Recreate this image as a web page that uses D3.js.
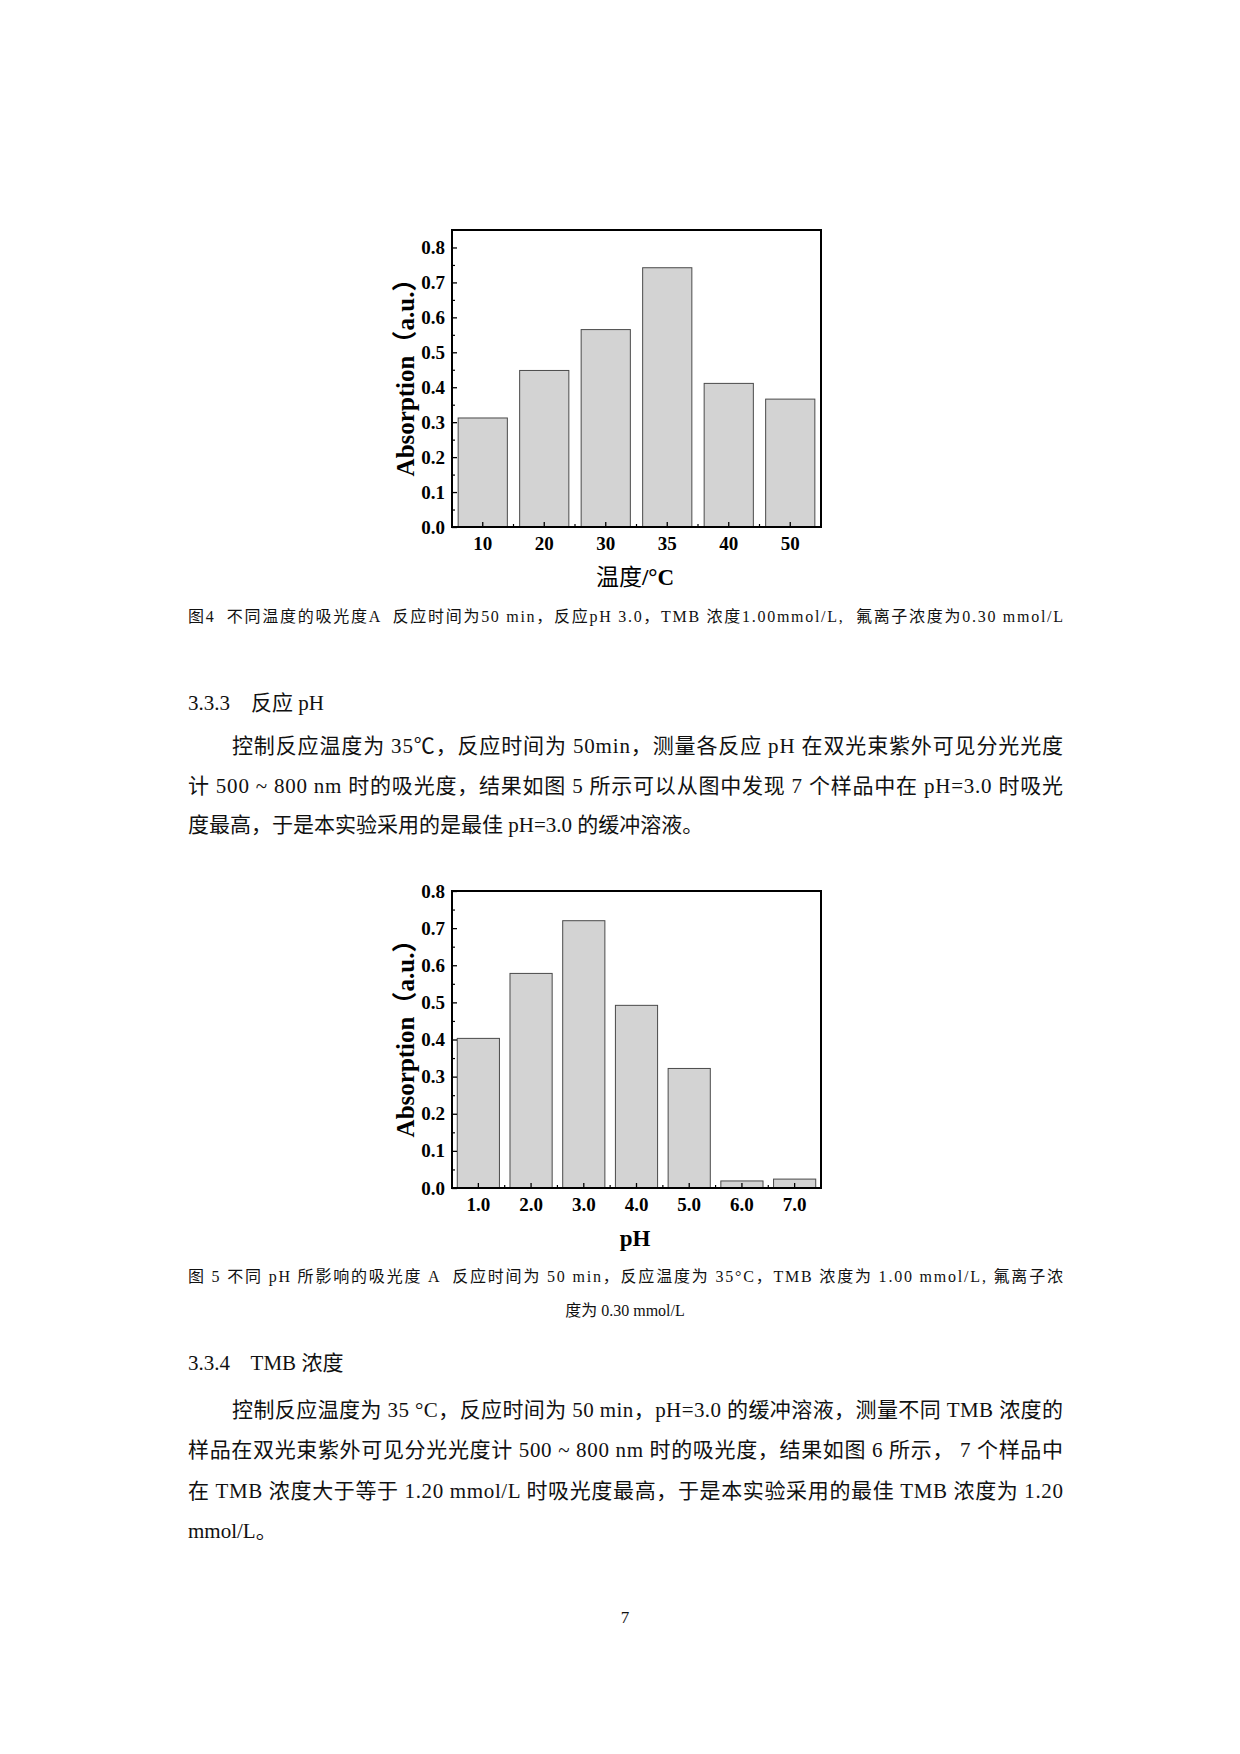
<!DOCTYPE html>
<html>
<head>
<meta charset="utf-8">
<script src="https://cdn.jsdelivr.net/npm/d3@7"></script>
<style>
  body { margin: 0; background: #fff; }
  text { font-family: "Liberation Serif", "Noto Sans CJK SC", serif; white-space: pre; }
</style>
</head>
<body>
<svg width="1240" height="1754"></svg>
<script>
// figure 4 - temperature
const tempCats = ['10', '20', '30', '35', '40', '50'];
const tempVals = [0.312, 0.448, 0.565, 0.742, 0.411, 0.366];
// figure 5 - pH
const phCats = ['1.0', '2.0', '3.0', '4.0', '5.0', '6.0', '7.0'];
const phVals = [0.403, 0.578, 0.720, 0.492, 0.322, 0.019, 0.024];
const yTicks = [0, 0.1, 0.2, 0.3, 0.4, 0.5, 0.6, 0.7, 0.8];
const yMinor = [0.05, 0.15, 0.25, 0.35, 0.45, 0.55, 0.65, 0.75];

const caption4 = '图4  不同温度的吸光度A  反应时间为50 min，反应pH 3.0，TMB 浓度1.00mmol/L,  氟离子浓度为0.30 mmol/L';
const heading333 = '3.3.3    反应 pH';
const para1 = [
  '控制反应温度为 35℃，反应时间为 50min，测量各反应 pH 在双光束紫外可见分光光度',
  '计 500 ~ 800 nm 时的吸光度，结果如图 5 所示可以从图中发现 7 个样品中在 pH=3.0 时吸光',
  '度最高，于是本实验采用的是最佳 pH=3.0 的缓冲溶液。'
];
const caption5 = [
  '图 5 不同 pH 所影响的吸光度 A  反应时间为 50 min，反应温度为 35°C，TMB 浓度为 1.00 mmol/L, 氟离子浓',
  '度为 0.30 mmol/L'
];
const heading334 = '3.3.4    TMB 浓度';
const para2 = [
  '控制反应温度为 35 °C，反应时间为 50 min，pH=3.0 的缓冲溶液，测量不同 TMB 浓度的',
  '样品在双光束紫外可见分光光度计 500 ~ 800 nm 时的吸光度，结果如图 6 所示， 7 个样品中',
  '在 TMB 浓度大于等于 1.20 mmol/L 时吸光度最高，于是本实验采用的最佳 TMB 浓度为 1.20',
  'mmol/L。'
];

const svg = d3.select('svg');
svg.append('rect').attr('width', 1240).attr('height', 1754).attr('fill', '#fff');

const textLeft = 188, textRight = 1063;

const drawChart = (top, cats, vals, yMax, xTitle) => {
  const frame = {left: 452, right: 821, top: top, bottom: top + 297};
  const g = svg.append('g');

  const x = d3.scaleBand()
    .domain(cats)
    .range([frame.left, frame.right])
    .paddingInner(0.2)
    .paddingOuter(0.1);
  const y = d3.scaleLinear()
    .domain([0, yMax])
    .range([frame.bottom, frame.top]);

  g.selectAll('rect.bar').data(vals)
    .enter().append('rect')
    .attr('class', 'bar')
    .attr('x', (d, i) => x(cats[i]))
    .attr('y', d => y(d))
    .attr('width', x.bandwidth())
    .attr('height', d => y(0) - y(d))
    .attr('fill', '#d3d3d3')
    .attr('stroke', '#4a4a4a')
    .attr('stroke-width', 1);

  // y axis, ticks pointing in
  const yaxis = g.append('g')
    .attr('transform', `translate(${frame.left},0)`)
    .call(d3.axisLeft(y).tickValues(yTicks).tickFormat(d3.format('.1f'))
      .tickSizeInner(-5).tickSizeOuter(0).tickPadding(7));
  yaxis.select('.domain').remove();
  yaxis.selectAll('line').attr('stroke-width', 1.3);
  yaxis.selectAll('text')
    .attr('font-size', 19).attr('font-weight', 'bold')
    .attr('font-family', 'Liberation Serif').attr('fill', '#000');

  const yminor = g.append('g')
    .attr('transform', `translate(${frame.left},0)`)
    .call(d3.axisLeft(y).tickValues(yMinor).tickFormat('')
      .tickSizeInner(-3).tickSizeOuter(0));
  yminor.select('.domain').remove();
  yminor.selectAll('line').attr('stroke-width', 1.2);

  // x axis
  const xaxis = g.append('g')
    .attr('transform', `translate(0,${frame.bottom})`)
    .call(d3.axisBottom(x).tickSizeInner(-5).tickSizeOuter(0).tickPadding(10));
  xaxis.select('.domain').remove();
  xaxis.selectAll('line').attr('stroke-width', 1.3);
  xaxis.selectAll('text')
    .attr('font-size', 19).attr('font-weight', 'bold')
    .attr('font-family', 'Liberation Serif').attr('fill', '#000');

  // minor ticks between categories
  const gap = (x.step() - x.bandwidth()) / 2;
  g.selectAll('line.xminor').data(cats.slice(1))
    .enter().append('line')
    .attr('class', 'xminor')
    .attr('x1', d => x(d) - gap).attr('x2', d => x(d) - gap)
    .attr('y1', frame.bottom).attr('y2', frame.bottom - 3)
    .attr('stroke', '#000').attr('stroke-width', 1.2);

  // frame
  g.append('rect')
    .attr('x', frame.left).attr('y', frame.top)
    .attr('width', frame.right - frame.left)
    .attr('height', frame.bottom - frame.top)
    .attr('fill', 'none').attr('stroke', '#000').attr('stroke-width', 2);

  // y title
  const yt = g.append('text')
    .attr('transform', `translate(405,${(frame.top + frame.bottom) / 2 - 7}) rotate(-90)`)
    .attr('text-anchor', 'middle').attr('dominant-baseline', 'central')
    .attr('font-size', 25).attr('font-weight', 'bold');
  yt.append('tspan').text('Absorption');
  yt.append('tspan').text('（a.u.）');

  // x title
  const xt = g.append('text')
    .attr('x', 635).attr('y', frame.bottom + 58)
    .attr('text-anchor', 'middle')
    .attr('font-size', 23);
  xTitle.forEach(p => {
    xt.append('tspan').text(p.t).attr('font-weight', p.bold ? 'bold' : 'normal');
  });
};

drawChart(230, tempCats, tempVals, 0.85, [{t: '温度', bold: false}, {t: '/°C', bold: true}]);
drawChart(891, phCats, phVals, 0.8, [{t: 'pH', bold: true}]);

// page text
const addLine = (str, xPos, yPos, size, justify) => {
  const t = svg.append('text')
    .attr('x', xPos).attr('y', yPos)
    .attr('font-size', size)
    .attr('fill', '#111')
    .text(str);
  if (justify) t.attr('textLength', textRight - xPos).attr('lengthAdjust', 'spacing');
  return t;
};

addLine(caption4, textLeft, 622, 16, true);
addLine(heading333, textLeft, 710, 21, false);
para1.forEach((s, i) => {
  addLine(s, i === 0 ? 232 : textLeft, 753 + i * 39.5, 21, i < para1.length - 1);
});
addLine(caption5[0], textLeft, 1282, 16, true);
addLine(caption5[1], 625, 1316, 16, false).attr('text-anchor', 'middle');
addLine(heading334, textLeft, 1370, 21, false);
para2.forEach((s, i) => {
  addLine(s, i === 0 ? 232 : textLeft, 1417 + i * 40.3, 21, i < para2.length - 1);
});
addLine('7', 625, 1623, 17, false).attr('text-anchor', 'middle');
</script>
</body>
</html>
